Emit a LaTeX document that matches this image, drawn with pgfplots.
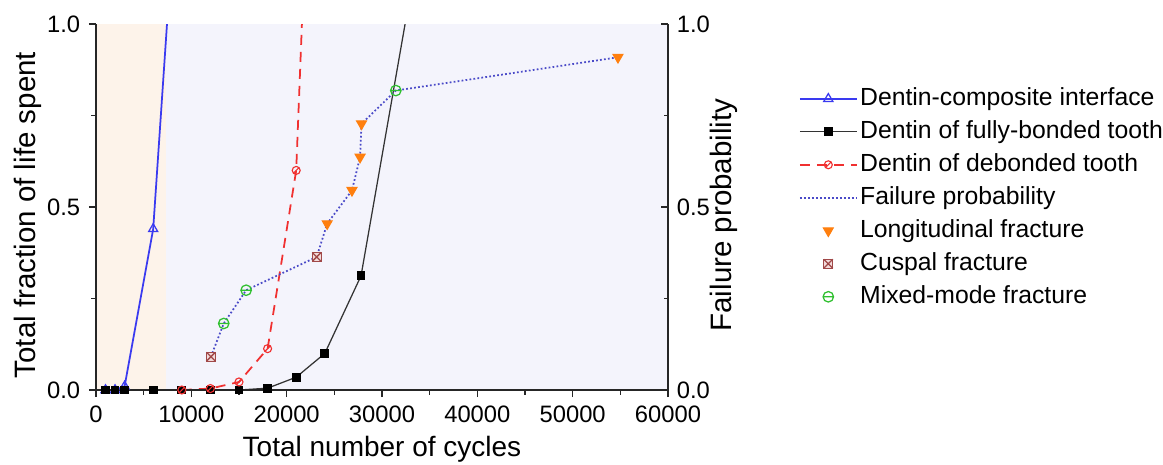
\documentclass[border=0pt]{standalone}
\usepackage{fontspec}
\setmainfont{Liberation Sans}
\usepackage{pgfplots}
\pgfplotsset{compat=1.18}

\definecolor{lineBlue}{HTML}{3A3AF0}
\definecolor{dotBlue}{HTML}{4A4AC8}
\definecolor{lineRed}{HTML}{F03030}
\definecolor{fracOrange}{HTML}{FF7F0E}
\definecolor{cuspWine}{HTML}{A04848}
\definecolor{cuspFill}{HTML}{F2DADA}
\definecolor{mixGreen}{HTML}{30C030}
\definecolor{bgOrange}{HTML}{FDF3EA}
\definecolor{bgLav}{HTML}{F4F4FC}

% marks: circle with bar, circle with slash, box with cross
\pgfdeclareplotmark{ominus}{%
  \pgfpathcircle{\pgfpointorigin}{\pgfplotmarksize}%
  \pgfpathmoveto{\pgfqpoint{-\pgfplotmarksize}{0pt}}%
  \pgfpathlineto{\pgfqpoint{\pgfplotmarksize}{0pt}}%
  \pgfusepathqstroke}
\pgfdeclareplotmark{oslash}{%
  \pgfpathcircle{\pgfpointorigin}{\pgfplotmarksize}%
  \pgfpathmoveto{\pgfqpoint{-0.707\pgfplotmarksize}{-0.707\pgfplotmarksize}}%
  \pgfpathlineto{\pgfqpoint{0.707\pgfplotmarksize}{0.707\pgfplotmarksize}}%
  \pgfusepathqstroke}
\pgfdeclareplotmark{boxtimes}{%
  \pgfpathrectangle{\pgfqpoint{-\pgfplotmarksize}{-\pgfplotmarksize}}{\pgfqpoint{2\pgfplotmarksize}{2\pgfplotmarksize}}%
  \pgfusepathqfillstroke
  \pgfpathmoveto{\pgfqpoint{-\pgfplotmarksize}{-\pgfplotmarksize}}%
  \pgfpathlineto{\pgfqpoint{\pgfplotmarksize}{\pgfplotmarksize}}%
  \pgfpathmoveto{\pgfqpoint{-\pgfplotmarksize}{\pgfplotmarksize}}%
  \pgfpathlineto{\pgfqpoint{\pgfplotmarksize}{-\pgfplotmarksize}}%
  \pgfusepathqstroke}

\pgfplotsset{
  lifebase/.style={
    scale only axis, width=228.8pt, height=146.4pt,
    xmin=0, xmax=60000, ymin=0, ymax=1,
    /pgf/number format/assume math mode=true,
    tick label style={font=\fontsize{9.5}{11}\selectfont},
    label style={font=\fontsize{11.8}{13}\selectfont},
    axis line style={line width=0.6pt, black!85},
    major tick length=2.8pt, minor tick length=1.8pt,
    every tick/.style={black!85, line width=0.5pt},
    ytick={0,0.5,1}, minor ytick={0.25,0.75},
    yticklabel style={/pgf/number format/.cd, fixed, fixed zerofill, precision=1},
  },
}

\begin{document}
\begin{tikzpicture}
\useasboundingbox (-38.4pt,-29.6pt) rectangle (426.8pt,156pt);
\begin{axis}[
  lifebase,
  axis x line*=bottom, axis y line*=left,
  tick align=outside,
  xtick={0,10000,...,60000}, minor xtick={5000,15000,...,55000},
  scaled x ticks=false,
  xticklabel style={/pgf/number format/.cd, set thousands separator={}, fixed, precision=0},
  xlabel={Total number of cycles},
  ylabel={Total fraction of life spent},
  xlabel style={at={(axis description cs:0.5,-0.161)}, anchor=center, font=\fontsize{11.2}{13}\selectfont},
  ylabel style={at={(axis description cs:-0.119,0.478)}, anchor=center},
  axis on top,
  legend image code/.code={\draw[mark repeat=2,mark phase=2,#1] plot coordinates {(0cm,0cm) (0.4cm,0cm) (0.8cm,0cm)};},
  legend style={at={(axis description cs:1.215,0.85)}, anchor=north west,
    draw=none, fill=none, font=\fontsize{9.9}{11}\selectfont,
    row sep=1.7pt, nodes={inner sep=1pt, text height=7.5pt, text depth=2pt}},
  legend cell align=left,
]
% shaded regions
\addplot[fill=bgOrange, draw=none, forget plot] coordinates {(0,0) (7300,0) (7300,1) (0,1)} -- cycle;
\addplot[fill=bgLav, draw=none, forget plot] coordinates {(7300,0) (60000,0) (60000,1) (7300,1)} -- cycle;

% dentin-composite interface
\addplot[draw=lineBlue, line width=0.7pt, mark=triangle, mark size=2.1pt, mark options={solid, draw=lineBlue, fill=none, line width=0.5pt}]
  coordinates {(1000,0) (2000,0) (3000,0.01) (6000,0.44) (9000,1.6)};
\addlegendentry{Dentin-composite interface}

% dentin of fully-bonded tooth
\addplot[black!80, line width=0.5pt, mark=square*, mark size=1.5pt, mark options={fill=black, draw=black}]
  coordinates {(1000,0) (2000,0) (3000,0) (6000,0) (9000,0) (12000,0) (15000,0)
               (18000,0.005) (21000,0.035) (24000,0.10) (27800,0.312) (33000,1.086)};
\addlegendentry{Dentin of fully-bonded tooth}

% dentin of debonded tooth
\addplot[lineRed, line width=0.7pt, dash pattern=on 4pt off 2.8pt, mark=oslash, mark size=1.6pt, mark options={solid, fill=none, line width=0.45pt}]
  coordinates {(9000,0) (12000,0.004) (15000,0.022) (18000,0.113) (21000,0.60) (24000,2.6)};
\addlegendentry{Dentin of debonded tooth}

% failure probability (right axis, same 0..1 scale)
\addplot[dotBlue, line width=0.7pt, dash pattern=on 0.7pt off 0.9pt]
  coordinates {(12050,0.0909) (13400,0.1818) (15750,0.2727) (23150,0.3636) (24250,0.4545)
               (26850,0.5455) (27700,0.6364) (27850,0.7273) (31450,0.8182) (54750,0.9091)};
\addlegendentry{Failure probability}

\addplot[only marks, mark=triangle*, mark size=2.3pt, mark options={rotate=180, fill=fracOrange, draw=fracOrange}, forget plot]
  coordinates {(24250,0.4545) (26850,0.5455) (27700,0.6364) (27850,0.7273) (54750,0.9091)};
\addplot[only marks, mark=boxtimes, mark size=1.8pt, mark options={fill=cuspFill, draw=cuspWine, line width=0.5pt}, forget plot]
  coordinates {(12050,0.0909) (23150,0.3636)};
\addplot[only marks, mark=ominus, mark size=2.1pt, mark options={draw=mixGreen, line width=0.5pt}, forget plot]
  coordinates {(13400,0.1818) (15750,0.2727) (31450,0.8182)};

\addlegendimage{only marks, mark=triangle*, mark size=2.3pt, mark options={rotate=180, fill=fracOrange, draw=fracOrange}}
\addlegendentry{Longitudinal fracture}
\addlegendimage{only marks, mark=boxtimes, mark size=1.8pt, mark options={fill=cuspFill, draw=cuspWine, line width=0.5pt}}
\addlegendentry{Cuspal fracture}
\addlegendimage{only marks, mark=ominus, mark size=2.1pt, mark options={draw=mixGreen, line width=0.5pt}}
\addlegendentry{Mixed-mode fracture}
\end{axis}

\begin{axis}[
  lifebase,
  axis x line=none, axis y line*=right,
  tick align=inside,
  ylabel={Failure probability},
  ylabel style={at={(axis description cs:1.098,0.478)}, anchor=center},
]
\end{axis}
\end{tikzpicture}
\end{document}
